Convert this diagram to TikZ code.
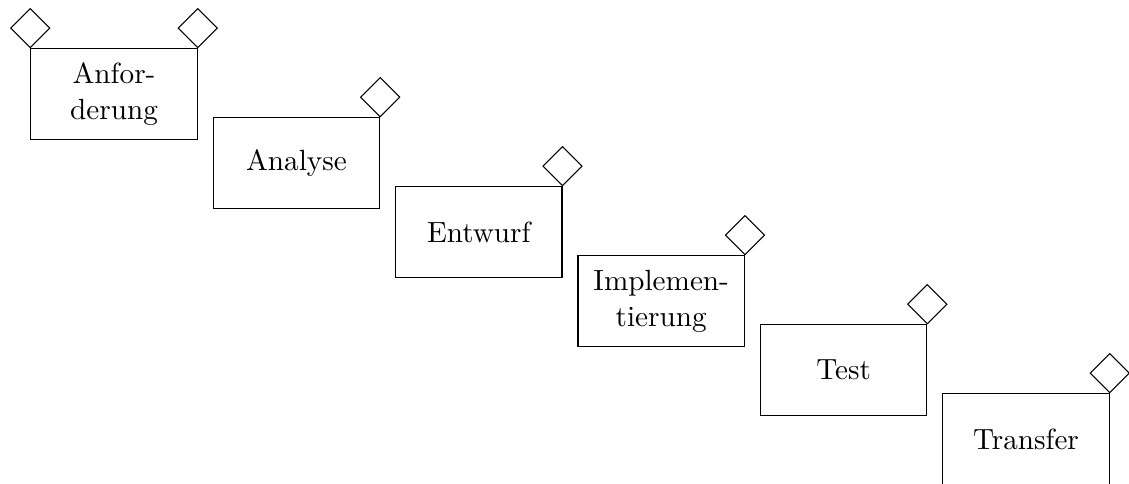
\documentclass[tikz,border=0pt]{standalone}
\usetikzlibrary{shapes.geometric}
\tikzset{
  phase/.style={draw, rectangle, minimum width=62.4pt, minimum height=33.8pt,
    align=center, inner sep=2pt, font=\fontsize{10.95}{13.4}\selectfont},
  gate/.style={draw, diamond, minimum size=14.8pt, inner sep=0pt, anchor=south}
}
\begin{document}
\begin{tikzpicture}[x=0.375pt, y=-0.375pt]
  \useasboundingbox (0,0) rectangle (1129,483);
  % phases, stepping down to the right
  \node[phase] (p1) at (114,94) {Anfor-\\derung};
  \node[phase] (p2) at (296.4,163) {Analyse};
  \node[phase] (p3) at (478.8,232) {Entwurf};
  \node[phase] (p4) at (661.2,301) {Implemen-\\tierung};
  \node[phase] (p5) at (843.6,370) {Test};
  \node[phase] (p6) at (1026,439) {Transfer};
  % milestone diamonds on the top corners
  \node[gate] (m0) at (p1.north west) {};
  \node[gate] (m1) at (p1.north east) {};
  \node[gate] (m2) at (p2.north east) {};
  \node[gate] (m3) at (p3.north east) {};
  \node[gate] (m4) at (p4.north east) {};
  \node[gate] (m5) at (p5.north east) {};
  \node[gate] (m6) at (p6.north east) {};
\end{tikzpicture}
\end{document}
